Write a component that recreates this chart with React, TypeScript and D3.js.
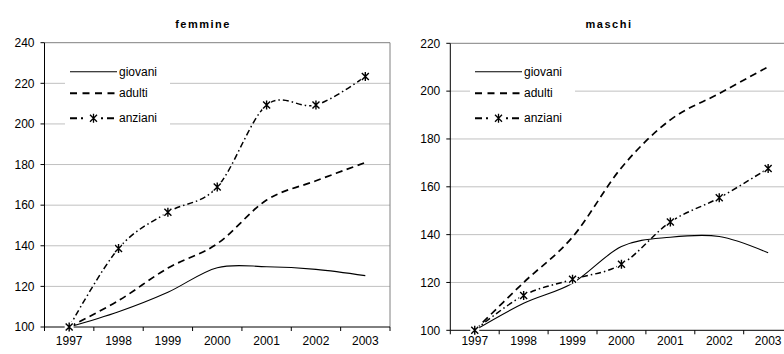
import React from "react";
import * as d3 from "d3";

const years = [1997, 1998, 1999, 2000, 2001, 2002, 2003];
const seriesNames = ["giovani", "adulti", "anziani"];

const femGiovani = [100, 107.5, 117.1, 129.2, 129.7, 128.4, 125.3];
const femAdulti = [100, 113, 129, 141, 162.5, 172, 181];
const femAnziani = [100, 138.7, 156.5, 168.9, 209.3, 209.3, 223.4];

const masGiovani = [100, 111.3, 119.7, 135, 138.9, 139.2, 132.4];
const masAdulti = [100, 120, 139, 168, 188, 199, 210.2];
const masAnziani = [100, 114.6, 121.3, 127.6, 145.3, 155.4, 167.7];

const femTicks = [100, 120, 140, 160, 180, 200, 220, 240];
const masTicks = [100, 120, 140, 160, 180, 200, 220];

const FONT = "'Liberation Sans', Arial, sans-serif";

type PanelProps = {
  title: string;
  titleX: number;
  titleSpacing: number;
  x0: number;
  x1: number;
  yTop: number;
  yBottom: number;
  yMax: number;
  ticks: number[];
  giovani: number[];
  adulti: number[];
  anziani: number[];
  legendX: number;
  showRightBorder: boolean;
};

const Star = ({ x, y }: { x: number; y: number }) => (
  <g transform={`translate(${x},${y})`}>
    <rect x={-4.5} y={-5} width={9} height={10} fill="#fff" />
    <path
      d="M-3.5,-3.5L3.5,3.5M-3.5,3.5L3.5,-3.5M0,-4.5L0,4.5"
      stroke="#000"
      strokeWidth={1.4}
    />
  </g>
);

function Panel(p: PanelProps) {
  const x = d3.scaleLinear().domain([years[0] - 0.5, years[years.length - 1] + 0.5]).range([p.x0, p.x1]);
  const y = d3.scaleLinear().domain([100, p.yMax]).range([p.yBottom, p.yTop]);
  const line = d3
    .line<number>()
    .x((_, i) => x(years[i]))
    .y((d) => y(d))
    .curve(d3.curveCardinal.tension(0));
  const boundaries = d3.range(years.length + 1).map((i) => years[0] - 0.5 + i);
  const lx = p.legendX;
  const legendRows = [71.7, 93.3, 118.3];
  return (
    <g fontFamily={FONT}>
      <text
        x={p.titleX}
        y={28}
        textAnchor="middle"
        fontWeight="bold"
        fontSize={11}
        letterSpacing={p.titleSpacing}
      >
        {p.title}
      </text>
      {p.ticks.map((t) => (
        <g key={t}>
          {t !== p.yMax && t !== 100 && (
            <line x1={p.x0} x2={p.x1} y1={y(t)} y2={y(t)} stroke="#c0c0c0" strokeWidth={1} />
          )}
          <line x1={p.x0 - 4} x2={p.x0} y1={y(t)} y2={y(t)} stroke="#000" />
          <text x={p.x0 - 10} y={y(t) + 4.2} textAnchor="end" fontSize={12}>
            {t}
          </text>
        </g>
      ))}
      <line x1={p.x0} x2={p.x1} y1={p.yTop} y2={p.yTop} stroke="#808080" />
      {p.showRightBorder && (
        <line x1={p.x1} x2={p.x1} y1={p.yTop} y2={p.yBottom} stroke="#808080" />
      )}
      <line x1={p.x0} x2={p.x0} y1={p.yTop} y2={p.yBottom} stroke="#000" />
      <line x1={p.x0} x2={p.x1} y1={p.yBottom} y2={p.yBottom} stroke="#000" />
      {boundaries.map((b) => (
        <line key={b} x1={x(b)} x2={x(b)} y1={p.yBottom} y2={p.yBottom + 4} stroke="#000" />
      ))}
      {years.map((yr) => (
        <text key={yr} x={x(yr)} y={345} textAnchor="middle" fontSize={12}>
          {yr}
        </text>
      ))}
      <rect x={lx - 5} y={60} width={105} height={70} fill="#fff" />
      <path d={line(p.giovani) || ""} fill="none" stroke="#000" strokeWidth={1.1} />
      <path
        d={line(p.adulti) || ""}
        fill="none"
        stroke="#000"
        strokeWidth={1.7}
        strokeDasharray="7,4.5"
      />
      <path
        d={line(p.anziani) || ""}
        fill="none"
        stroke="#000"
        strokeWidth={1.5}
        strokeDasharray="6,3,1.5,3"
      />
      {p.anziani.map((v, i) => (
        <Star key={i} x={x(years[i])} y={y(v)} />
      ))}
      {/* legend */}
      <line x1={lx} x2={lx + 47} y1={legendRows[0]} y2={legendRows[0]} stroke="#000" strokeWidth={1.1} />
      <line
        x1={lx}
        x2={lx + 47}
        y1={legendRows[1]}
        y2={legendRows[1]}
        stroke="#000"
        strokeWidth={2}
        strokeDasharray="7,5.5"
      />
      <line
        x1={lx}
        x2={lx + 47}
        y1={legendRows[2]}
        y2={legendRows[2]}
        stroke="#000"
        strokeWidth={2}
        strokeDasharray="7,4,2,4,0,14,2,4"
      />
      <path
        d={`M${lx + 20},${legendRows[2] - 3.5}l7,7M${lx + 20},${legendRows[2] + 3.5}l7,-7M${lx + 23.5},${legendRows[2] - 4.5}l0,9`}
        stroke="#000"
        strokeWidth={1.3}
      />
      {seriesNames.map((s, i) => (
        <text key={s} x={lx + 49} y={legendRows[i] + 4} fontSize={12}>
          {s}
        </text>
      ))}
    </g>
  );
}

export default function App() {
  return (
    <svg
      width={784}
      height={354}
      style={{ position: "absolute", left: 0, top: 0, background: "#fff" }}
    >
      <rect width={784} height={354} fill="#fff" />
      <Panel
        title="femmine"
        titleX={203}
        titleSpacing={1.5}
        x0={44.5}
        x1={390}
        yTop={42.7}
        yBottom={327}
        yMax={240}
        ticks={femTicks}
        giovani={femGiovani}
        adulti={femAdulti}
        anziani={femAnziani}
        legendX={70}
        showRightBorder={true}
      />
      <Panel
        title="maschi"
        titleX={609}
        titleSpacing={1.5}
        x0={450.3}
        x1={792.6}
        yTop={43.3}
        yBottom={330.3}
        yMax={220}
        ticks={masTicks}
        giovani={masGiovani}
        adulti={masAdulti}
        anziani={masAnziani}
        legendX={475}
        showRightBorder={false}
      />
    </svg>
  );
}
